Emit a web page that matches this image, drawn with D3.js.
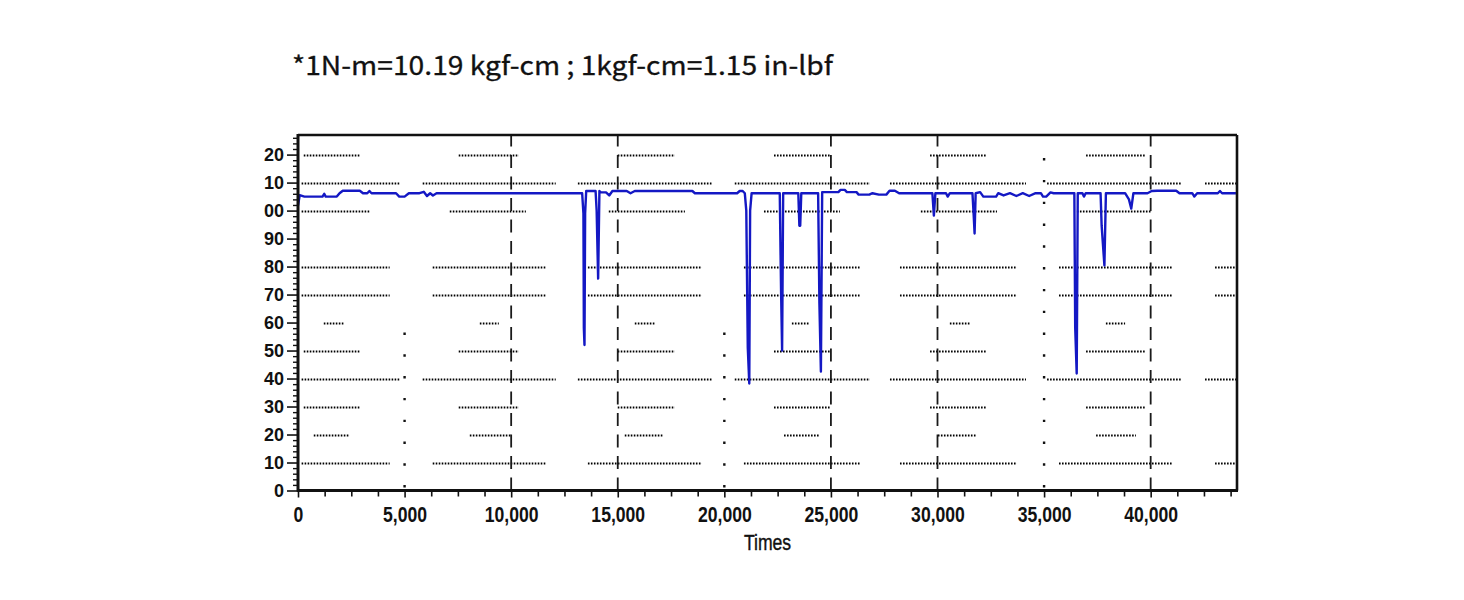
<!DOCTYPE html>
<html>
<head>
<meta charset="utf-8">
<script src="https://cdn.jsdelivr.net/npm/d3@7"></script>
<style>
  html, body { margin: 0; padding: 0; background: #ffffff; }
  svg { display: block; }
</style>
</head>
<body>
<svg id="chart" width="1464" height="600"></svg>
<script>
// ---------------- DATA ----------------
const title = "*1N-m=10.19 kgf-cm ; 1kgf-cm=1.15 in-lbf";
const xAxisTitle = "Times";

const xTicks = [0, 5000, 10000, 15000, 20000, 25000, 30000, 35000, 40000];
const xTickLabels = ["0", "5,000", "10,000", "15,000", "20,000", "25,000", "30,000", "35,000", "40,000"];
const yTicks = [0, 10, 20, 30, 40, 50, 60, 70, 80, 90, 100, 110, 120];
const yTickLabels = ["0", "10", "20", "30", "40", "50", "60", "70", "80", "90", "00", "10", "20"];

const times = [
  0, 80, 300, 1150, 1230, 1300, 1820, 1950, 2100, 2900, 3050, 3250, 3350, 3450, 4600, 4750, 5000, 5200,
  5700, 5900, 6050, 6200, 6330, 6500, 13330, 13390, 13410, 13440, 13470, 13520, 13960, 14010, 14080, 14140,
  14200, 14450, 14600, 14750, 15420, 15600, 15800, 18500, 18620, 20600, 20720, 20860, 20960, 21030, 21100,
  21170, 21210, 21280, 22600, 22660, 22710, 22760, 23470, 23520, 23560, 23610, 24400, 24460, 24530, 24590,
  25350, 25450, 25650, 25750, 26200, 26300, 26800, 26950, 27250, 27600, 27750, 28000, 28200, 29760, 29830,
  29900, 30400, 30480, 30580, 31640, 31700, 31740, 31790, 32000, 32150, 32750, 32850, 33100, 33400, 33700,
  34000, 34300, 34600, 34850, 34950, 35100, 35300, 35450, 36420, 36460, 36530, 36580, 36800, 36870, 36950,
  37650, 37700, 37830, 37900, 38800, 38980, 39090, 39190, 39850, 40050, 40300, 41200, 41350, 41950, 42050,
  42180, 43150, 43250, 43350, 44000
];
const torque = [
  101.8, 105.5, 105, 105, 106, 105, 105, 106.2, 107.1, 107.1, 106.2, 106.2, 107, 106.2, 106.2, 105, 105, 106.2,
  106.2, 106.7, 105.2, 106.2, 105.4, 106.2, 106.2, 99, 58, 52, 99, 107, 107, 100, 75.7, 107,
  106.5, 106.5, 105.4, 107, 107, 106.2, 107, 107, 106.2, 106.2, 107, 107, 106.2, 100, 51,
  38.2, 100, 106.2, 106.2, 72, 50, 106.2, 106.2, 94.6, 94.6, 106.2, 106.2, 66.8, 42.5, 106.6,
  106.6, 107.4, 107.4, 106.6, 106.6, 105.7, 105.7, 106.2, 105.7, 105.7, 107.1, 107.1, 106.2, 106.2, 98.2,
  106.2, 106.2, 105, 106.2, 106.2, 98, 91.8, 106.2, 106.6, 105, 105, 106.2, 105.4, 106.2, 105.2,
  106.2, 105.2, 106.2, 106.2, 105, 105, 106.5, 106.2, 106.2, 58.2, 41.8, 106.2, 106.2, 105, 106.2,
  106.2, 94.6, 80.4, 106.2, 106.2, 104, 100.7, 106.2, 106.2, 107, 107.1, 107.1, 106.2, 106.2, 105,
  106.2, 106.2, 107, 106.2, 106.2
];

// partial dotted horizontal gridline segments (data units along x)
const segA = [[270, 2900], [7540, 10360], [15000, 17680], [22330, 25000], [29650, 32320], [36970, 39780]];
const segB = [[170, 4770], [5850, 12090], [13130, 19420], [20490, 26830], [27770, 34150], [35140, 41470], [42550, 44000]];
const segC = [[170, 3370], [7120, 10690], [14580, 18150], [21860, 25420], [29220, 32790], [36540, 40060]];
const segD = [[170, 4300], [6320, 11620], [13600, 18950], [20920, 26360], [28240, 33730], [35700, 41000], [43020, 44000]];
const segE = [[1210, 2150], [8530, 9420], [15800, 16740], [23170, 24010], [30580, 31520], [37900, 38800]];
const segF = [[740, 2430], [8060, 10030], [15330, 17160], [22800, 24480], [30020, 31850], [37440, 39310]];
const gridRowValues = [120, 110, 100, 80, 70, 60, 50, 40, 30, 20, 10];
const gridRowSegs   = [segA, segB, segC, segD, segD, segE, segA, segB, segA, segF, segD];

const dashedVerticals = [10000, 15000, 25000, 30000, 40000];
const sparseVerticalsLow = [5000, 20000];
const sparseVerticalsFull = [35000];

// ---------------- CHART ----------------
const svg = d3.select("#chart");
const W = 1464, H = 600;
const plot = { left: 298, right: 1237, top: 135, bottom: 490.5 };

const x = d3.scaleLinear().domain([0, 44050]).range([plot.left, plot.right]);
const y = d3.scaleLinear().domain([0, 127]).range([plot.bottom, plot.top]);

svg.append("rect").attr("width", W).attr("height", H).attr("fill", "#ffffff");

// title
svg.append("text")
  .attr("x", 292).attr("y", 75)
  .attr("font-family", "'Noto Sans CJK TC', 'Noto Sans', sans-serif")
  .attr("font-size", 26)
  .attr("fill", "#111")
  .attr("stroke", "#111").attr("stroke-width", 0.3)
  .attr("textLength", 541)
  .attr("lengthAdjust", "spacingAndGlyphs")
  .text(title);

const grid = svg.append("g");

// horizontal dotted partial gridlines
gridRowValues.forEach((v, i) => {
  const yy = Math.round(y(v)) + 0.5;
  grid.selectAll(null).data(gridRowSegs[i]).enter().append("line")
    .attr("x1", d => x(d[0])).attr("x2", d => x(d[1]))
    .attr("y1", yy).attr("y2", yy)
    .attr("stroke", "#000").attr("stroke-width", 2)
    .attr("stroke-dasharray", "1.6,1.4");
});

// vertical dashed gridlines (drawn from bottom upward)
grid.selectAll(null).data(dashedVerticals).enter().append("line")
  .attr("x1", d => x(d)).attr("x2", d => x(d))
  .attr("y1", y(0)).attr("y2", y(127))
  .attr("stroke", "#1a1a1a").attr("stroke-width", 1.8)
  .attr("stroke-dasharray", "13,8.5");

// sparse dotted verticals
grid.selectAll(null).data(sparseVerticalsLow).enter().append("line")
  .attr("x1", d => x(d)).attr("x2", d => x(d))
  .attr("y1", y(0) - 3).attr("y2", y(57))
  .attr("stroke", "#111").attr("stroke-width", 2.4)
  .attr("stroke-dasharray", "2.4,19.4");
grid.selectAll(null).data(sparseVerticalsFull).enter().append("line")
  .attr("x1", d => x(d)).attr("x2", d => x(d))
  .attr("y1", y(0) - 3).attr("y2", y(125))
  .attr("stroke", "#111").attr("stroke-width", 2.4)
  .attr("stroke-dasharray", "2.4,19.4");

// data line
const pts = times.map((t, i) => [t, torque[i]]);
svg.append("path")
  .datum(pts)
  .attr("fill", "none")
  .attr("stroke", "#1418c4")
  .attr("stroke-width", 2.4)
  .attr("stroke-linejoin", "round")
  .attr("d", d3.line().x(d => x(d[0])).y(d => y(d[1])));

// frame (top & right)
svg.append("line").attr("x1", plot.left).attr("x2", plot.right).attr("y1", plot.top).attr("y2", plot.top)
  .attr("stroke", "#111").attr("stroke-width", 2.4);
svg.append("line").attr("x1", plot.right).attr("x2", plot.right).attr("y1", plot.top).attr("y2", plot.bottom)
  .attr("stroke", "#111").attr("stroke-width", 2.6);

// minor ticks
const xMinor = d3.range(0, 44001, 1250).filter(v => v % 5000 !== 0);
const yMinor = d3.range(0, 127, 2).filter(v => v % 10 !== 0);

const xAxisG = svg.append("g").attr("transform", `translate(0,${plot.bottom})`);
xAxisG.call(d3.axisBottom(x).tickValues(xMinor).tickSize(6).tickFormat(""));
xAxisG.selectAll("line").attr("stroke", "#111").attr("stroke-width", 1.6);
xAxisG.select(".domain").remove();

const xAxisMajor = svg.append("g").attr("transform", `translate(0,${plot.bottom})`);
xAxisMajor.call(d3.axisBottom(x).tickValues(xTicks).tickSize(7).tickPadding(9)
  .tickFormat((d, i) => xTickLabels[i]));
xAxisMajor.select(".domain").attr("stroke", "#111").attr("stroke-width", 2.8)
  .attr("d", `M${plot.left - 1},0H${plot.right + 1}`);
xAxisMajor.selectAll(".tick line").attr("stroke", "#111").attr("stroke-width", 1.6);
xAxisMajor.selectAll(".tick text")
  .attr("font-family", "'Liberation Sans', Arial, sans-serif")
  .attr("font-size", 22)
  .attr("font-weight", "bold")
  .attr("fill", "#111")
  .attr("transform", "scale(0.8,1)");

const yAxisMinor = svg.append("g").attr("transform", `translate(${plot.left},0)`);
yAxisMinor.call(d3.axisLeft(y).tickValues(yMinor).tickSize(5).tickFormat(""));
yAxisMinor.selectAll("line").attr("stroke", "#111").attr("stroke-width", 1.4);
yAxisMinor.select(".domain").remove();

const yAxisMajor = svg.append("g").attr("transform", `translate(${plot.left},0)`);
yAxisMajor.call(d3.axisLeft(y).tickValues(yTicks).tickSize(11).tickPadding(3)
  .tickFormat((d, i) => yTickLabels[i]));
yAxisMajor.select(".domain").attr("stroke", "#111").attr("stroke-width", 3)
  .attr("d", `M0,${plot.bottom + 1}V${plot.top - 1}`);
yAxisMajor.selectAll(".tick line").attr("stroke", "#111").attr("stroke-width", 1.6);
yAxisMajor.selectAll(".tick text")
  .attr("font-family", "'Liberation Sans', Arial, sans-serif")
  .attr("font-size", 18)
  .attr("font-weight", "bold")
  .attr("fill", "#111");

// x axis title
const cx = (plot.left + plot.right) / 2;
svg.append("text")
  .attr("x", cx).attr("y", 550)
  .attr("text-anchor", "middle")
  .attr("font-family", "'Liberation Sans', Arial, sans-serif")
  .attr("font-size", 22)
  .attr("fill", "#111")
  .attr("stroke", "#111").attr("stroke-width", 0.4)
  .attr("transform", `translate(${cx * 0.2},0) scale(0.8,1)`)
  .text(xAxisTitle);
</script>
</body>
</html>
